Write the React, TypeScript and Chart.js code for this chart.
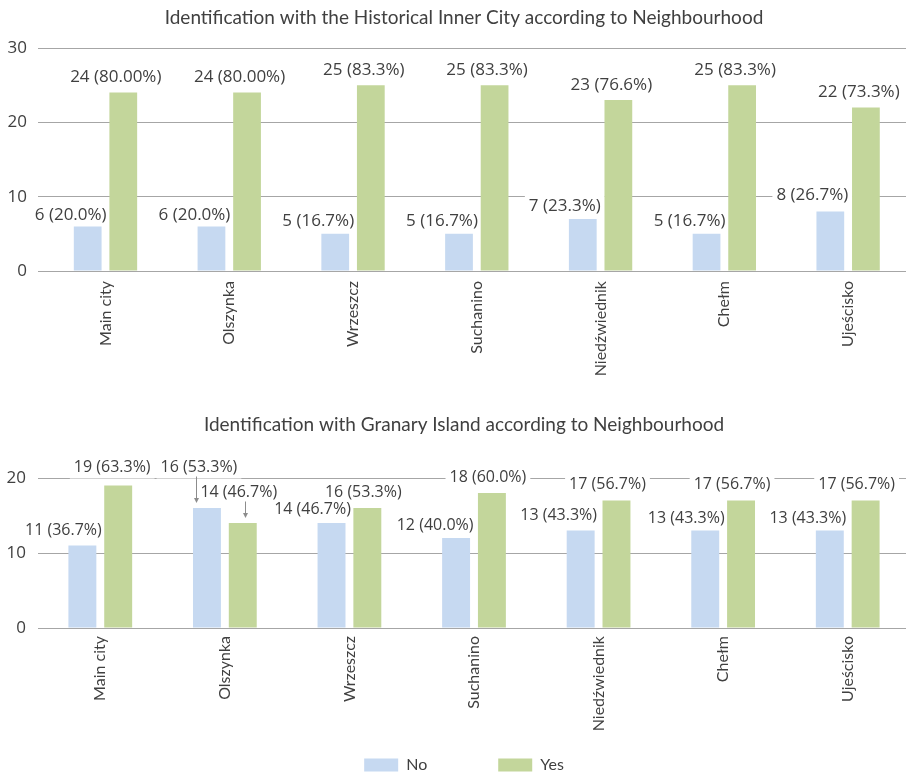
import React, { useEffect, useRef } from "react";
import { Chart, registerables } from "chart.js";

Chart.register(...registerables);

// ---------- data ----------
const categories = ["Main city", "Olszynka", "Wrzeszcz", "Suchanino", "Niedźwiednik", "Chełm", "Ujeścisko"];

const innerTitle = "Identification with the Historical Inner City according to Neighbourhood";
const innerNo = [6, 6, 5, 5, 7, 5, 8];
const innerYes = [24, 24, 25, 25, 23, 25, 22];
const innerNoPct = ["20.0%", "20.0%", "16.7%", "16.7%", "23.3%", "16.7%", "26.7%"];
const innerYesPct = ["80.00%", "80.00%", "83.3%", "83.3%", "76.6%", "83.3%", "73.3%"];
const innerMax = 30;
const innerStep = 10;

const granaryTitle = "Identification with Granary Island according to Neighbourhood";
const granaryNo = [11, 16, 14, 12, 13, 13, 13];
const granaryYes = [19, 14, 16, 18, 17, 17, 17];
const granaryNoPct = ["36.7%", "53.3%", "46.7%", "40.0%", "43.3%", "43.3%", "43.3%"];
const granaryYesPct = ["63.3%", "46.7%", "53.3%", "60.0%", "56.7%", "56.7%", "56.7%"];
const granaryMax = 20;
const granaryStep = 10;

const seriesNames = ["No", "Yes"];

// ---------- label nudges (styling only, relative to bar top-centre) ----------
const innerNoDx = [-17, -17, -17, -17, -18, -17, -18];
const innerYesDx = [-7.5, -7.5, -7, -7.5, -7, -7, -7];
const innerNoDy = [11.5, 11.5, 13, 13, 13, 13, 16.5];
const innerYesDy = [15.5, 15.5, 15, 15, 15, 15, 15];

const granaryNoDx = [-19, -8, -19, -21, -22, -19, -22];
const granaryYesDx = [-6, -4, -4, -4, -9, -9, -9];
const granaryNoDy = [15.5, 40.5, 14, 12.5, 15.5, 12.5, 12.5];
const granaryYesDy = [18, 30.5, 15.5, 15.5, 16.5, 16.5, 16.5];
// leader arrows: [datasetIndex, categoryIndex, xShift]
const granaryArrows: [number, number, number][] = [
  [0, 1, -11],
  [1, 1, 2],
];

// ---------- styles ----------
const FONT = 'Lato, "DejaVu Sans", sans-serif';
const NUM_FONT = '"Open Sans", "DejaVu Sans", sans-serif';
const TEXT = "#404040";
const GRID = "#a6a6a6";
const NO_COLOR = "#c6d9f1";
const YES_COLOR = "#c3d69b";

function makeLabelPlugin(
  texts: string[][],
  dx: number[][],
  dy: number[][],
  size: number,
  arrows: [number, number, number][]
) {
  const pos = (chart: any) => {
    const out: { x: number; y: number; t: string; bx: number; by: number }[][] = [];
    chart.data.datasets.forEach((_: any, d: number) => {
      const meta = chart.getDatasetMeta(d);
      out[d] = meta.data.map((bar: any, i: number) => ({
        x: bar.x + dx[d][i],
        y: bar.y - dy[d][i],
        t: texts[d][i],
        bx: bar.x,
        by: bar.y,
      }));
    });
    return out;
  };
  return {
    id: "barLabels",
    beforeDatasetsDraw(chart: any) {
      const ctx = chart.ctx;
      ctx.save();
      ctx.font = `${size}px ${NUM_FONT}`;
      ctx.fillStyle = "#ffffff";
      pos(chart).forEach((arr) =>
        arr.forEach((p) => {
          const w = ctx.measureText(p.t).width;
          ctx.fillRect(p.x - w / 2 - 4, p.y - 11, w + 8, 22);
        })
      );
      ctx.restore();
    },
    afterDatasetsDraw(chart: any) {
      const ctx = chart.ctx;
      const all = pos(chart);
      ctx.save();
      ctx.font = `${size}px ${NUM_FONT}`;
      ctx.textAlign = "center";
      ctx.textBaseline = "middle";
      ctx.fillStyle = TEXT;
      all.forEach((arr) => arr.forEach((p) => ctx.fillText(p.t, p.x, p.y)));
      ctx.strokeStyle = "#8c8c8c";
      ctx.fillStyle = "#8c8c8c";
      ctx.lineWidth = 1;
      arrows.forEach(([d, i, sx]) => {
        const p = all[d][i];
        const x = Math.round(p.bx + sx) + 0.5;
        const y0 = p.y + 9;
        const y1 = p.by - 5;
        ctx.beginPath();
        ctx.moveTo(x, y0);
        ctx.lineTo(x, y1 - 4);
        ctx.stroke();
        ctx.beginPath();
        ctx.moveTo(x - 2.5, y1 - 5);
        ctx.lineTo(x + 2.5, y1 - 5);
        ctx.lineTo(x, y1);
        ctx.closePath();
        ctx.fill();
      });
      ctx.restore();
    },
  };
}

const noLabelClip = (s: any) => {
  s._computeLabelArea = () => undefined;
};

function buildConfig(opts: {
  title: string;
  no: number[];
  yes: number[];
  noPct: string[];
  yesPct: string[];
  max: number;
  step: number;
  dx: number[][];
  dy: number[][];
  arrows: [number, number, number][];
  labelSize: number;
  titlePadTop: number;
  titlePadBottom: number;
  yWidth: number;
  yTickLen: number;
  yPad: number;
  xHeight: number;
  xPad: number;
  legend: boolean;
}): any {
  const texts = [
    opts.no.map((v, i) => `${v} (${opts.noPct[i]})`),
    opts.yes.map((v, i) => `${v} (${opts.yesPct[i]})`),
  ];
  return {
    type: "bar",
    data: {
      labels: categories,
      datasets: [
        {
          label: seriesNames[0],
          data: opts.no,
          backgroundColor: NO_COLOR,
          borderWidth: 0,
          categoryPercentage: 0.575,
          barPercentage: 0.78,
        },
        {
          label: seriesNames[1],
          data: opts.yes,
          backgroundColor: YES_COLOR,
          borderWidth: 0,
          categoryPercentage: 0.575,
          barPercentage: 0.78,
        },
      ],
    },
    options: {
      responsive: false,
      animation: false,
      devicePixelRatio: 1,
      layout: { padding: { left: 18, right: 0, top: 0, bottom: 0 } },
      plugins: {
        title: {
          display: true,
          text: opts.title,
          color: TEXT,
          font: { family: FONT, size: 19, weight: "normal", lineHeight: 1.2 },
          padding: { top: opts.titlePadTop, bottom: opts.titlePadBottom },
        },
        legend: {
          display: opts.legend,
          position: "bottom",
          labels: {
            boxWidth: 34,
            boxHeight: 13,
            padding: 71,
            color: TEXT,
            font: { family: FONT, size: 16 },
          },
        },
        tooltip: { enabled: false },
      },
      scales: {
        x: {
          grid: { display: false, drawTicks: false },
          border: { display: false },
          ticks: {
            minRotation: 90,
            maxRotation: 90,
            autoSkip: false,
            padding: opts.xPad,
            color: TEXT,
            font: { family: FONT, size: 16 },
          },
          afterFit: (s: any) => {
            s.height = opts.xHeight;
            noLabelClip(s);
          },
        },
        y: {
          min: 0,
          max: opts.max,
          ticks: {
            stepSize: opts.step,
            padding: opts.yPad,
            color: TEXT,
            font: { family: NUM_FONT, size: 17 },
          },
          grid: {
            color: GRID,
            lineWidth: 1,
            drawTicks: opts.yTickLen > 0,
            tickLength: opts.yTickLen,
          },
          border: { display: false },
          afterFit: (s: any) => {
            s.width = opts.yWidth;
            noLabelClip(s);
          },
        },
      },
    },
    plugins: [makeLabelPlugin(texts, opts.dx, opts.dy, opts.labelSize, opts.arrows)],
  };
}

const H1 = 395;
const H2 = 388;

export default function App() {
  const r1 = useRef<HTMLCanvasElement>(null);
  const r2 = useRef<HTMLCanvasElement>(null);

  useEffect(() => {
    const c1 = new Chart(
      r1.current as HTMLCanvasElement,
      buildConfig({
        title: innerTitle,
        no: innerNo,
        yes: innerYes,
        noPct: innerNoPct,
        yesPct: innerYesPct,
        max: innerMax,
        step: innerStep,
        dx: [innerNoDx, innerYesDx],
        dy: [innerNoDy, innerYesDy],
        arrows: [],
        labelSize: 17,
        titlePadTop: 6.6,
        titlePadBottom: 18.6,
        yWidth: 43.6 - 18,
        yTickLen: 5.6,
        yPad: 11,
        xHeight: H1 - 271,
        xPad: 10,
        legend: false,
      })
    );
    const c2 = new Chart(
      r2.current as HTMLCanvasElement,
      buildConfig({
        title: granaryTitle,
        no: granaryNo,
        yes: granaryYes,
        noPct: granaryNoPct,
        yesPct: granaryYesPct,
        max: granaryMax,
        step: granaryStep,
        dx: [granaryNoDx, granaryYesDx],
        dy: [granaryNoDy, granaryYesDy],
        arrows: granaryArrows,
        labelSize: 16,
        titlePadTop: 18.1,
        titlePadBottom: 42.1,
        yWidth: 38 - 18,
        yTickLen: 0,
        yPad: 12,
        xHeight: H2 - 97 - 233,
        xPad: 8,
        legend: true,
      })
    );
    return () => {
      c1.destroy();
      c2.destroy();
    };
  }, []);

  return (
    <div
      style={{
        position: "fixed",
        left: 0,
        top: 0,
        width: 906,
        height: 773,
        overflow: "hidden",
        background: "#ffffff",
      }}
    >
      <canvas ref={r1} width={910} height={H1} style={{ position: "absolute", left: 0, top: 0 }} />
      <canvas ref={r2} width={910} height={H2} style={{ position: "absolute", left: 0, top: 395 }} />
    </div>
  );
}
